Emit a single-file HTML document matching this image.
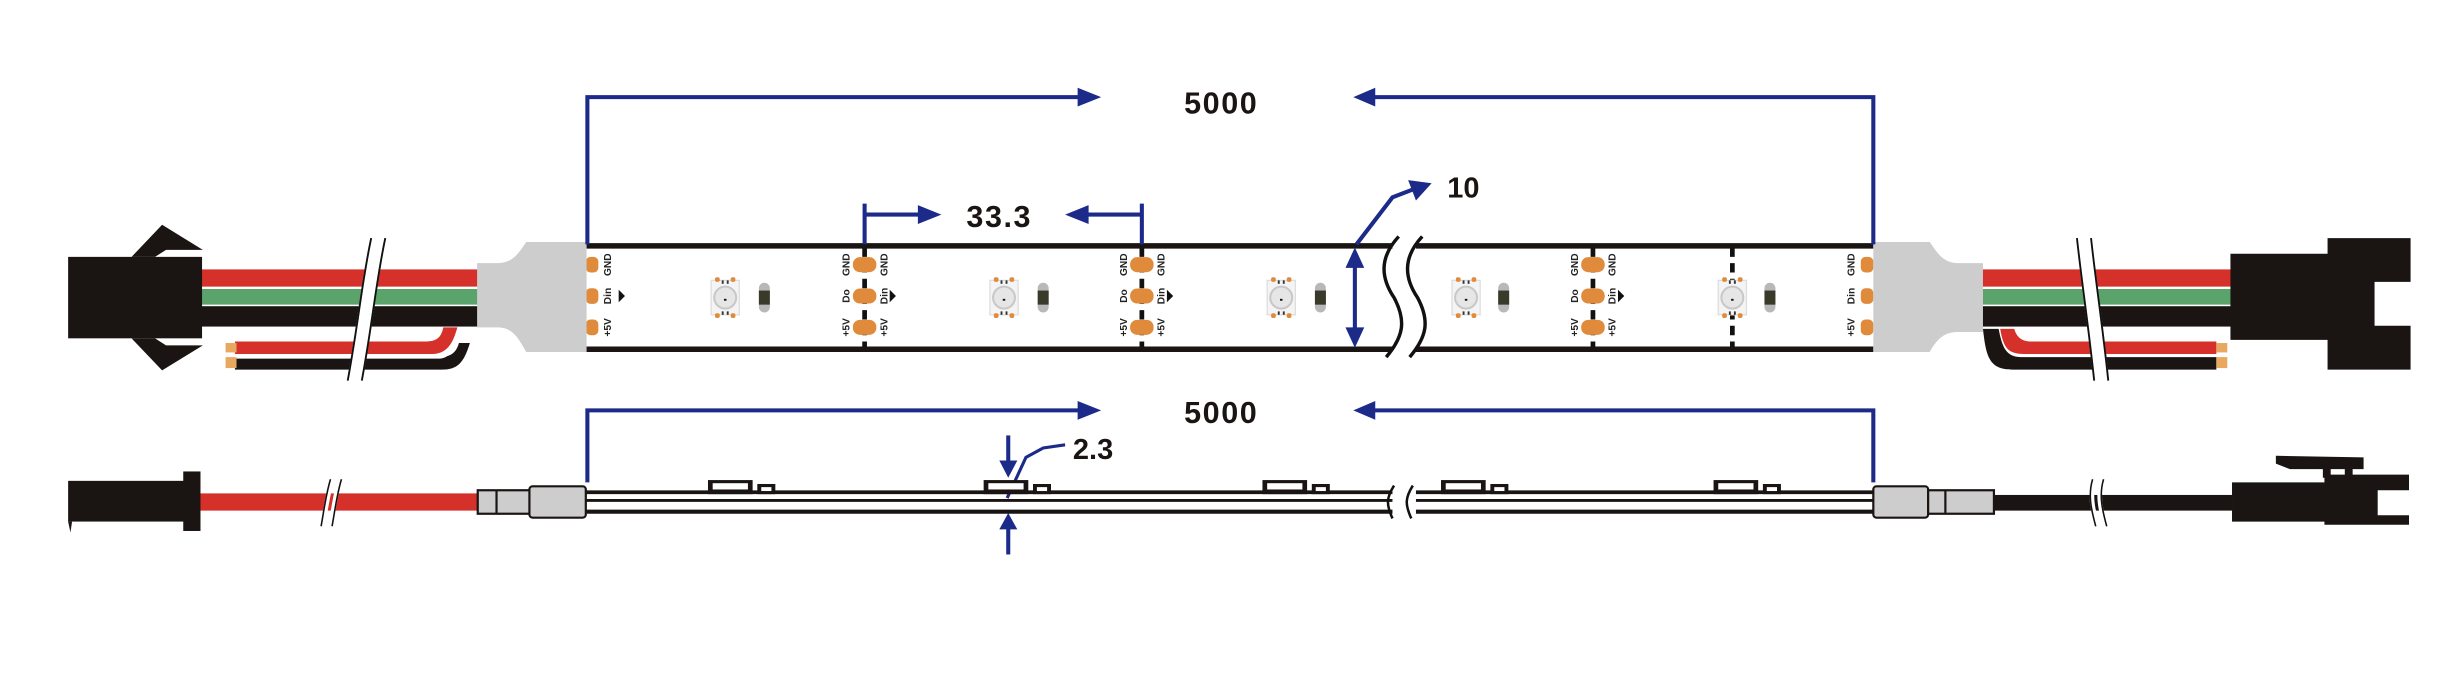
<!DOCTYPE html>
<html><head><meta charset="utf-8"><style>html,body{margin:0;padding:0;background:#fff}svg{display:block}</style></head>
<body>
<svg width="2456" height="696" viewBox="0 0 1568 444.36" preserveAspectRatio="none" xmlns="http://www.w3.org/2000/svg" font-family="Liberation Sans, sans-serif">
<defs>
<g id="pad"><rect x="-7.5" y="-4.8" width="15" height="9.6" rx="4.5" fill="#e08a3c"/></g>
<g id="led">
<rect x="-9" y="-11" width="18" height="22" fill="#f4f4f4" stroke="#ddd" stroke-width="0.8"/>
<circle cx="0" cy="0" r="7" fill="#e6e6e6" stroke="#c8c8c8" stroke-width="1.3"/>
<rect x="-0.8" y="0.8" width="1.6" height="1.2" fill="#111"/>
<rect x="-6.5" y="-13" width="3" height="3" rx="1.2" fill="#e08a3c"/><rect x="3.5" y="-13" width="3" height="3" rx="1.2" fill="#e08a3c"/>
<rect x="-6.5" y="10" width="3" height="3" rx="1.2" fill="#e08a3c"/><rect x="3.5" y="10" width="3" height="3" rx="1.2" fill="#e08a3c"/>
<rect x="-2.2" y="-11" width="1.2" height="2.2" fill="#333"/><rect x="1" y="-11" width="1.2" height="2.2" fill="#333"/>
<rect x="-2.2" y="8.8" width="1.2" height="2.2" fill="#333"/><rect x="1" y="8.8" width="1.2" height="2.2" fill="#333"/>
</g>
<g id="res"><rect x="-3.5" y="-9.5" width="7" height="19" rx="3.5" fill="#b8b8b8"/><rect x="-3.5" y="-4.5" width="7" height="9" fill="#3a3a2a"/></g>
<g id="col">
<use href="#pad" y="169"/><use href="#pad" y="189"/><use href="#pad" y="209"/>
<g font-size="6.5" font-weight="bold" fill="#222">
<text transform="translate(-9.5,169) rotate(-90)" text-anchor="middle">GND</text>
<text transform="translate(14.5,169) rotate(-90)" text-anchor="middle">GND</text>
<text transform="translate(-9.5,189) rotate(-90)" text-anchor="middle">Do</text>
<text transform="translate(14.5,189) rotate(-90)" text-anchor="middle">Din</text>
<text transform="translate(-9.5,209) rotate(-90)" text-anchor="middle">+5V</text>
<text transform="translate(14.5,209) rotate(-90)" text-anchor="middle">+5V</text>
</g>
<polygon points="16,185 16,193 20,189" fill="#111"/>
</g>
<g id="comp"><rect x="0" y="306.5" width="28.5" height="9" fill="#1a1412"/><rect x="3" y="308.5" width="22.5" height="4" fill="#fff"/>
<rect x="31.5" y="309" width="11.5" height="6.5" fill="#1a1412"/><rect x="34" y="311" width="6.5" height="2.5" fill="#fff"/></g>
</defs>

<!-- ===== TOP STRIP ===== -->
<!-- dashed separators -->
<g stroke="#111" stroke-width="3" stroke-dasharray="6,4">
<line x1="552" y1="158" x2="552" y2="224"/><line x1="729" y1="158" x2="729" y2="224"/>
<line x1="1017" y1="158" x2="1017" y2="224"/><line x1="1106" y1="158" x2="1106" y2="224"/>
</g>
<g stroke="#1a1412" stroke-width="3.5">
<line x1="374" y1="157" x2="889" y2="157"/><line x1="904" y1="157" x2="1196" y2="157"/>
<line x1="374" y1="223" x2="889" y2="223"/><line x1="904" y1="223" x2="1196" y2="223"/>
</g>
<path d="M893,151 C880,165 882,178 890,190 C898,205 896,215 885,228" fill="none" stroke="#111" stroke-width="2.2"/>
<path d="M908,151 C895,165 897,178 905,190 C913,205 911,215 900,228" fill="none" stroke="#111" stroke-width="2.2"/>

<use href="#col" x="552"/><use href="#col" x="729"/><use href="#col" x="1017"/>
<!-- end pads -->
<g fill="#e08a3c"><rect x="374" y="164" width="8" height="10" rx="3"/><rect x="374" y="184" width="8" height="10" rx="3"/><rect x="374" y="204" width="8" height="10" rx="3"/>
<rect x="1188" y="164" width="8" height="10" rx="3"/><rect x="1188" y="184" width="8" height="10" rx="3"/><rect x="1188" y="204" width="8" height="10" rx="3"/></g>
<g font-size="6.5" font-weight="bold" fill="#222">
<text transform="translate(390,169) rotate(-90)" text-anchor="middle">GND</text>
<text transform="translate(390,189) rotate(-90)" text-anchor="middle">Din</text>
<text transform="translate(390,209) rotate(-90)" text-anchor="middle">+5V</text>
<text transform="translate(1184,169) rotate(-90)" text-anchor="middle">GND</text>
<text transform="translate(1184,189) rotate(-90)" text-anchor="middle">Din</text>
<text transform="translate(1184,209) rotate(-90)" text-anchor="middle">+5V</text>
</g>
<polygon points="395,185 395,193 399,189" fill="#111"/>
<use href="#led" x="463" y="190"/><use href="#res" x="488" y="190"/>
<use href="#led" x="641" y="190"/><use href="#res" x="666" y="190"/>
<use href="#led" x="818" y="190"/><use href="#res" x="843" y="190"/>
<use href="#led" x="936" y="190"/><use href="#res" x="960" y="190"/>
<use href="#led" x="1106" y="190"/><use href="#res" x="1130" y="190"/>

<!-- left cable top -->
<path d="M305,219 L300,219 C296,232 292,236 282,236 L150,236 L150,229 L280,229 C286,229 289,225 290,219 Z" fill="#1a1412"/>
<path d="M293,219 C291,226 287,228 280,228 L150,228 L150,220 L276,220 C281,220 283,217 284,212 L293,212Z" fill="#fff"/>
<path d="M292,209 C290,216 287,226 276,226 L150,226 L150,218 L272,218 C280,218 282,214 283,209Z" fill="#d6302a"/>
<rect x="144" y="219" width="7" height="6" fill="#e8a860"/><rect x="144" y="228" width="7" height="7" fill="#e8a860"/>
<rect x="128" y="172" width="178" height="11" fill="#d6302a"/>
<rect x="128" y="184.5" width="178" height="10" fill="#5aa46c"/>
<rect x="128" y="195.5" width="178" height="13" fill="#1a1412"/>
<path d="M239,152 C233,180 231,205 224,243 M244,152 C238,180 236,205 229,243" stroke="#fff" stroke-width="5" fill="none"/>
<path d="M237,152 C231,180 229,205 222,243 M246,152 C240,180 238,205 231,243" stroke="#111" stroke-width="1.2" fill="none"/>
<!-- left connector -->
<rect x="43.5" y="164" width="85.5" height="52" fill="#1a1412"/>
<polygon points="84,164 103.5,143.5 129.5,159.5 106,159.5 99,164" fill="#1a1412"/>
<polygon points="84,216 103.5,236.5 129.5,220.5 106,220.5 99,216" fill="#1a1412"/>
<!-- left gray -->
<path d="M304.6,168 L318,168 C328,168 332,160 336,154.5 L374.5,154.5 L374.5,224.7 L336,224.7 C332,218 328,209 318,209 L304.6,209 Z" fill="#cdcdcd"/>

<!-- right cable top -->
<rect x="1262" y="172" width="163" height="11" fill="#d6302a"/>
<rect x="1262" y="184.5" width="163" height="10" fill="#5aa46c"/>
<rect x="1262" y="195.5" width="163" height="13" fill="#1a1412"/>
<path d="M1266,210 C1268,228 1270,236 1285,236 L1415,236 L1415,228 L1290,228 C1280,228 1278,220 1276,210Z" fill="#1a1412"/>
<path d="M1277,210 C1279,222 1282,226 1292,226 L1415,226 L1415,218 L1296,218 C1290,218 1287,214 1286,210Z" fill="#d6302a"/>
<rect x="1415" y="219" width="7" height="6" fill="#e8a860"/><rect x="1415" y="228" width="7" height="7" fill="#e8a860"/>
<path d="M1328,152 C1331,180 1335,205 1339,243 M1333,152 C1336,180 1340,205 1344,243" stroke="#fff" stroke-width="5" fill="none"/>
<path d="M1326,152 C1329,180 1333,205 1337,243 M1335,152 C1338,180 1342,205 1346,243" stroke="#111" stroke-width="1.2" fill="none"/>
<path d="M1196,154.5 L1232,154.5 C1236,160 1240,168 1250,168 L1266,168 L1266,212 L1250,212 C1240,212 1236,218 1232,224.7 L1196,224.7Z" fill="#cdcdcd"/>
<path d="M1424,162 L1486,162 L1486,152 L1539,152 L1539,180 L1516,180 L1516,208 L1539,208 L1539,236 L1486,236 L1486,217 L1424,217Z" fill="#1a1412"/>

<!-- top dimensions -->
<g stroke="#1c2a8a" stroke-width="2.6" fill="none">
<polyline points="375,156 375,62 690,62"/><polyline points="1196,156 1196,62 876,62"/>
<line x1="552" y1="130" x2="552" y2="156"/><line x1="552" y1="137" x2="590" y2="137"/>
<line x1="729" y1="130" x2="729" y2="156"/><line x1="729" y1="137" x2="692" y2="137"/>
<line x1="865" y1="168" x2="865" y2="212"/>
<polyline points="866,156 889,126 902,121"/>
</g>
<g fill="#1c2a8a">
<polygon points="688,56 703,62 688,68"/><polygon points="878,56 864,62 878,68"/>
<polygon points="586,131 601,137 586,143"/><polygon points="695,131 680,137 695,143"/>
<polygon points="859,171 865,158 871,171"/><polygon points="859,209 865,222 871,209"/>
<polygon points="899,115 914,117 904,128"/>
</g>
<g font-weight="bold" fill="#1a1412" font-size="19.5">
<text x="756" y="72.5" letter-spacing="1">5000</text>
<text x="617" y="145" letter-spacing="1">33.3</text>
<text x="924" y="126" font-size="18.5">10</text>
<text x="756" y="270" letter-spacing="1">5000</text>
<text x="685" y="293" font-size="18.5">2.3</text>
</g>

<!-- ===== BOTTOM ===== -->
<g stroke="#1c2a8a" stroke-width="2.6" fill="none">
<polyline points="375,308 375,262 690,262"/><polyline points="1196,308 1196,262 876,262"/>
<line x1="643.7" y1="278" x2="643.7" y2="296"/><line x1="643.7" y1="336" x2="643.7" y2="354"/>
<polyline points="643,318 655,292 666,286 680,284" stroke-width="2"/>
</g>
<g fill="#1c2a8a">
<polygon points="688,256 703,262 688,268"/><polygon points="878,256 864,262 878,268"/>
<polygon points="638,294 643.7,305 649.5,294"/><polygon points="638,338 643.7,327.5 649.5,338"/>
</g>
<g stroke="#1a1412">
<line x1="374" y1="314.3" x2="889" y2="314.3" stroke-width="2.4"/><line x1="904" y1="314.3" x2="1196" y2="314.3" stroke-width="2.4"/>
<line x1="374" y1="319.5" x2="889" y2="319.5" stroke-width="1.8"/><line x1="904" y1="319.5" x2="1196" y2="319.5" stroke-width="1.8"/>
<line x1="374" y1="326.7" x2="889" y2="326.7" stroke-width="2.6"/><line x1="904" y1="326.7" x2="1196" y2="326.7" stroke-width="2.6"/>
</g>
<path d="M890,310 C885,318 885,322 889,331 M902,310 C897,318 897,322 901,331" stroke="#111" stroke-width="1.6" fill="none"/>
<use href="#comp" x="452"/><use href="#comp" x="628"/><use href="#comp" x="806"/><use href="#comp" x="920"/><use href="#comp" x="1094"/>
<!-- left end -->
<rect x="128" y="315" width="178" height="11" fill="#d6302a"/>
<path d="M212,306 C209,316 208,325 206,336 M217,306 C214,316 213,325 211,336" stroke="#fff" stroke-width="3" fill="none"/>
<path d="M211,306 C208,316 207,325 205,336 M218,306 C215,316 214,325 212,336" stroke="#111" stroke-width="1" fill="none"/>
<rect x="43.5" y="307" width="75" height="26" fill="#1a1412"/><rect x="117" y="301" width="11" height="38" fill="#1a1412"/>
<polygon points="43.5,333 46,333 45,340" fill="#1a1412"/>
<rect x="305" y="313" width="34" height="15" fill="#cdcdcd" stroke="#1a1412" stroke-width="1.4"/>
<line x1="317" y1="313" x2="317" y2="328" stroke="#1a1412" stroke-width="1.4"/>
<rect x="338" y="310.5" width="36" height="20" rx="2" fill="#cdcdcd" stroke="#1a1412" stroke-width="1.4"/>
<!-- right end -->
<rect x="1272" y="316" width="153" height="10" fill="#1a1412"/>
<path d="M1337,306 C1334,316 1336,325 1339,336 M1342,306 C1339,316 1341,325 1344,336" stroke="#fff" stroke-width="3" fill="none"/>
<path d="M1336,306 C1333,316 1335,325 1338,336 M1343,306 C1340,316 1342,325 1345,336" stroke="#111" stroke-width="1" fill="none"/>
<rect x="1196" y="310.5" width="35" height="20" rx="2" fill="#cdcdcd" stroke="#1a1412" stroke-width="1.4"/>
<rect x="1231" y="313" width="42" height="15" fill="#cdcdcd" stroke="#1a1412" stroke-width="1.4"/>
<line x1="1242" y1="313" x2="1242" y2="328" stroke="#1a1412" stroke-width="1.4"/>
<path d="M1425,308 L1484,308 L1484,303 L1538,303 L1538,313 L1518,313 L1518,329 L1538,329 L1538,335 L1484,335 L1484,333 L1425,333Z" fill="#1a1412"/>
<path d="M1453,291 L1509,292 L1509,299.5 L1462,299.5 L1453,296Z" fill="#1a1412"/>
<rect x="1483" y="299" width="5" height="6" fill="#1a1412"/><rect x="1497" y="299" width="5" height="6" fill="#1a1412"/>
</svg>
</body></html>
